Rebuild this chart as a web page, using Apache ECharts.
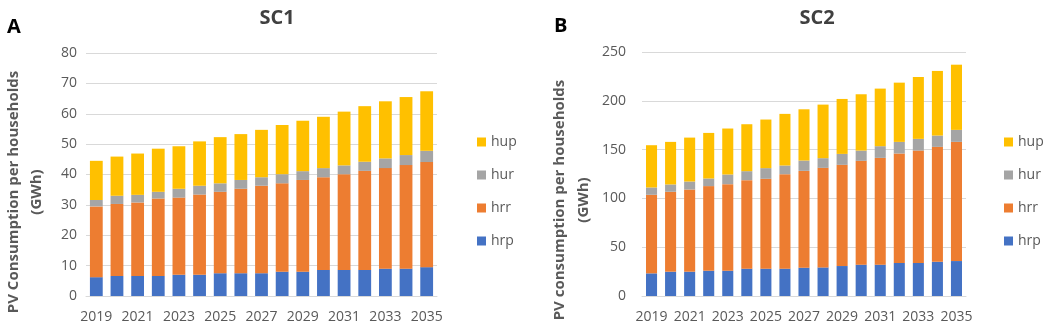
<!DOCTYPE html>
<html>
<head>
<meta charset="utf-8">
<script src="https://cdn.jsdelivr.net/npm/echarts@6/dist/echarts.min.js"></script>
<style>html,body{margin:0;padding:0;background:#fff}#c{width:1045px;height:328px}</style>
</head>
<body>
<div id="c"></div>
<script>
const years = ['2019','2020','2021','2022','2023','2024','2025','2026','2027','2028','2029','2030','2031','2032','2033','2034','2035'];
const seriesNames = ['hrp','hrr','hur','hup'];
const legendOrder = ['hup','hur','hrr','hrp'];

const sc1_hrp = [6.2,6.6,6.6,6.6,7.0,7.0,7.5,7.5,7.5,8.0,8.0,8.6,8.6,8.6,9.0,9.0,9.5];
const sc1_hrr = [23.3,23.7,24.2,25.5,25.4,26.4,26.8,27.8,28.8,29.1,30.2,30.5,31.5,32.6,33.1,34.1,34.6];
const sc1_hur = [2.1,2.7,2.5,2.2,2.9,2.9,2.8,2.9,2.8,3.0,2.9,3.0,2.9,3.0,3.2,3.3,3.7];
const sc1_hup = [12.9,12.9,13.6,14.2,14.0,14.6,15.2,15.1,15.6,16.2,16.6,16.9,17.7,18.3,18.8,19.1,19.6];

const sc2_hrp = [23.2,24.9,24.9,25.9,25.9,28.0,28.0,28.0,29.0,29.3,30.7,32.1,32.1,33.8,33.8,35.1,35.8];
const sc2_hrr = [80.5,81.9,84.2,86.7,88.7,90.7,92.1,96.8,99.2,102.0,103.7,106.4,109.4,112.2,115.2,117.7,122.1];
const sc2_hur = [7.5,7.5,8.2,7.8,9.9,9.2,10.9,8.9,10.6,9.9,11.2,10.5,12.0,11.9,12.0,11.6,12.3];
const sc2_hup = [43.3,43.6,45.0,46.7,47.1,48.1,49.8,52.9,52.5,54.9,56.3,57.7,59.0,60.7,63.4,66.2,66.8];

const yTicks1 = {min: 0, max: 80, interval: 10};
const yTicks2 = {min: 0, max: 250, interval: 50};

const colors = {hrp: '#4472C4', hrr: '#ED7D31', hur: '#A5A5A5', hup: '#FFC000'};
const FONT = 'Open Sans';
const TXT = '#595959';

const sc1 = {hrp: sc1_hrp, hrr: sc1_hrr, hur: sc1_hur, hup: sc1_hup};
const sc2 = {hrp: sc2_hrp, hrr: sc2_hrr, hur: sc2_hur, hup: sc2_hup};

function mkSeries(data, idx, gap) {
  return seriesNames.map(n => ({
    name: n, type: 'bar', stack: 's' + idx,
    xAxisIndex: idx, yAxisIndex: idx,
    data: data[n], barCategoryGap: gap,
    itemStyle: {color: colors[n]},
    emphasis: {disabled: true}, animation: false
  }));
}

function xAx(gi) {
  return {
    type: 'category', gridIndex: gi, data: years,
    axisLine: {lineStyle: {color: '#d9d9d9'}},
    axisTick: {show: false},
    axisLabel: {interval: 1, color: TXT, fontFamily: FONT, fontSize: 14, margin: 14}
  };
}
function yAx(gi, t, m) {
  return {
    type: 'value', gridIndex: gi, min: t.min, max: t.max, interval: t.interval,
    axisLine: {show: false}, axisTick: {show: false},
    splitLine: {lineStyle: {color: '#d9d9d9'}},
    axisLabel: {color: TXT, fontFamily: FONT, fontSize: 14, margin: m}
  };
}
function leg(left) {
  return {
    orient: 'vertical', left: left, top: 129, data: legendOrder,
    itemWidth: 9, itemHeight: 9, itemGap: 17, itemTextGap: 5,
    icon: 'rect',
    textStyle: {color: TXT, fontFamily: FONT, fontSize: 14, lineHeight: 16}
  };
}

const chart = echarts.init(document.getElementById('c'), null, {renderer: 'canvas'});
chart.setOption({
  animation: false,
  backgroundColor: '#fff',
  title: [
    {text: 'SC1', left: 272, top: 3, textAlign: 'center', textStyle: {fontFamily: FONT, fontWeight: 'bold', fontSize: 20, color: '#404040'}},
    {text: 'SC2', left: 812, top: 3, textAlign: 'center', textStyle: {fontFamily: FONT, fontWeight: 'bold', fontSize: 20, color: '#404040'}},
    {text: 'A', left: 2, top: 12, textStyle: {fontFamily: FONT, fontWeight: 'bold', fontSize: 20, color: '#000'}},
    {text: 'B', left: 549, top: 11, textStyle: {fontFamily: FONT, fontWeight: 'bold', fontSize: 20, color: '#000'}}
  ],
  grid: [
    {left: 86, right: 608, top: 53, bottom: 32},
    {left: 642, right: 79, top: 52, bottom: 32}
  ],
  xAxis: [xAx(0), xAx(1)],
  yAxis: [yAx(0, yTicks1, 9), yAx(1, yTicks2, 16)],
  legend: [leg(472), leg(999)],
  graphic: [
    {type: 'text', x: 25, y: 192, rotation: Math.PI / 2,
     style: {text: 'PV Consumption per households\n(GWh)', align: 'center', verticalAlign: 'middle',
             fill: TXT, font: 'bold 15px "Open Sans"', lineHeight: 23}},
    {type: 'text', x: 572, y: 200, rotation: Math.PI / 2,
     style: {text: 'PV consumption per households\n(GWh)', align: 'center', verticalAlign: 'middle',
             fill: TXT, font: 'bold 15px "Open Sans"', lineHeight: 24}}
  ],
  series: mkSeries(sc1, 0, '38%').concat(mkSeries(sc2, 1, '42%'))
});
</script>
</body>
</html>
